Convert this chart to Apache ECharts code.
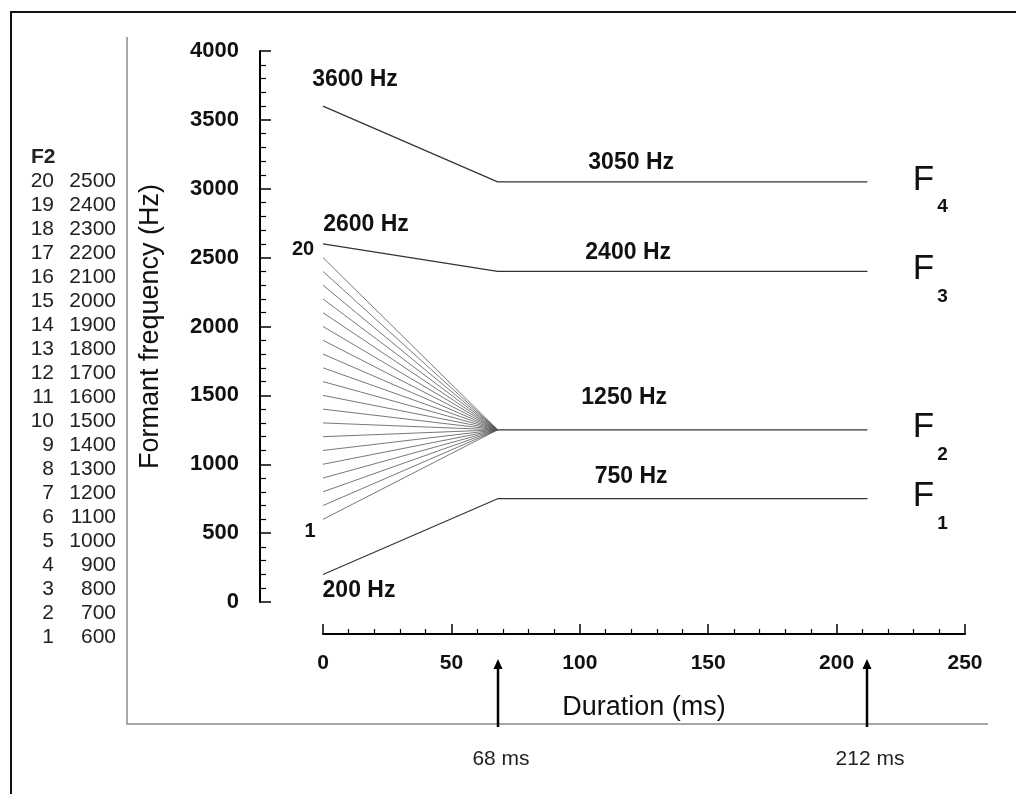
<!DOCTYPE html>
<html>
<head>
<meta charset="utf-8">
<title>Formant transitions</title>
<script src="https://cdn.jsdelivr.net/npm/echarts@6/dist/echarts.min.js"></script>
<style>
  html, body { margin: 0; padding: 0; background: #fff; }
  #chart { width: 1016px; height: 794px; }
</style>
</head>
<body>
<div id="chart"></div>
<script>
// time points of the formant tracks (ms)
const timePoints = [0, 68, 212];
const f1Track = [200, 750, 750];
const f3Track = [2600, 2400, 2400];
const f4Track = [3600, 3050, 3050];
const f2Target = 1250;
// F2 continuum: step number and onset frequency (Hz)
const f2Steps = [20, 19, 18, 17, 16, 15, 14, 13, 12, 11, 10, 9, 8, 7, 6, 5, 4, 3, 2, 1];
const f2Onsets = [2500, 2400, 2300, 2200, 2100, 2000, 1900, 1800, 1700, 1600, 1500, 1400, 1300, 1200, 1100, 1000, 900, 800, 700, 600];
// marked durations under the time axis (ms)
const arrowTimes = [68, 212];

const FONT = '"Liberation Sans", Arial, sans-serif';
const labelMs = 120; // where the steady-state Hz labels sit

let myChart = echarts.init(document.getElementById('chart'));

function note(coord, text, offset, size, weight) {
  return {
    coord: coord,
    symbolSize: 0,
    label: {
      show: true,
      formatter: text,
      offset: offset,
      color: '#111',
      fontFamily: FONT,
      fontSize: size || 23,
      fontWeight: weight || 'bold'
    }
  };
}

// F label with its subscript, hung on the end of a track
function formantTag(value, n) {
  const end = timePoints[timePoints.length - 1];
  return [
    note([end, value], 'F', [56, -2], 35, 'normal'),
    note([end, value], String(n), [75, 25], 19, 'bold')
  ];
}

function track(name, values, notes) {
  return {
    name: name,
    type: 'line',
    data: timePoints.map((t, i) => [t, values[i]]),
    symbol: 'none',
    silent: true,
    lineStyle: { color: '#333', width: 1.2 },
    markPoint: { symbolSize: 0, silent: true, animation: false, data: notes },
    z: 3
  };
}

let series = [];

// F2 fan
f2Onsets.forEach((v, i) => {
  series.push({
    name: 'F2 step ' + f2Steps[i],
    type: 'line',
    data: [[timePoints[0], v], [timePoints[1], f2Target]],
    symbol: 'none',
    silent: true,
    lineStyle: { color: '#555', width: 0.8 },
    z: 2
  });
});

series.push(track('F4', f4Track, [
  note([timePoints[0], f4Track[0]], f4Track[0] + ' Hz', [32, -26]),
  note([labelMs, f4Track[1]], f4Track[1] + ' Hz', [0, -19])
].concat(formantTag(f4Track[2], 4))));

series.push(track('F3', f3Track, [
  note([timePoints[0], f3Track[0]], f3Track[0] + ' Hz', [43, -19]),
  note([labelMs, f3Track[1]], f3Track[1] + ' Hz', [-3, -19])
].concat(formantTag(f3Track[2], 3))));

series.push({
  name: 'F2',
  type: 'line',
  data: [[timePoints[1], f2Target], [timePoints[2], f2Target]],
  symbol: 'none',
  silent: true,
  lineStyle: { color: '#333', width: 1.2 },
  markPoint: {
    symbolSize: 0, silent: true, animation: false,
    data: [
      note([labelMs, f2Target], f2Target + ' Hz', [-7, -32]),
      note([timePoints[0], f2Onsets[0]], String(f2Steps[0]), [-20, -8], 20, 'bold'),
      note([timePoints[0], f2Onsets[f2Onsets.length - 1]], String(f2Steps[f2Steps.length - 1]), [-13, 12], 20, 'bold')
    ].concat(formantTag(f2Target, 2))
  },
  z: 3
});

series.push(track('F1', f1Track, [
  note([timePoints[0], f1Track[0]], f1Track[0] + ' Hz', [36, 16]),
  note([labelMs, f1Track[1]], f1Track[1] + ' Hz', [0, -22])
].concat(formantTag(f1Track[2], 1))));

// arrows pointing at the marked durations
series.push({
  name: 'marks',
  type: 'custom',
  silent: true,
  clip: false,
  z: 5,
  data: arrowTimes.map(t => [t, 0]),
  renderItem: function (params, api) {
    const p = api.coord([api.value(0), 0]);
    const x = Math.round(p[0]);
    const tipY = p[1] + 57;
    return {
      type: 'group',
      children: [
        { type: 'line', shape: { x1: x, y1: tipY + 6, x2: x, y2: p[1] + 125 }, style: { stroke: '#000', lineWidth: 2.5 } },
        { type: 'polygon', shape: { points: [[x, tipY], [x - 4.5, tipY + 10], [x + 4.5, tipY + 10]] }, style: { fill: '#000' } },
        { type: 'text', x: x + 3, y: p[1] + 157, style: { text: api.value(0) + ' ms', align: 'center', verticalAlign: 'middle', fontSize: 21, fontFamily: FONT, fill: '#222' } }
      ]
    };
  }
});

// frames and the left hand table of the F2 steps
let graphics = [
  { type: 'rect', z: 0, silent: true, shape: { x: 11, y: 12, width: 1040, height: 820 }, style: { fill: 'none', stroke: '#111', lineWidth: 2 } },
  { type: 'polyline', z: 0, silent: true, shape: { points: [[127, 37], [127, 724], [988, 724]] }, style: { fill: 'none', stroke: '#8a8a8a', lineWidth: 1.5 } },
  { type: 'text', x: 31, y: 157, style: { text: 'F2', align: 'left', verticalAlign: 'middle', fontSize: 21, fontWeight: 'bold', fontFamily: FONT, fill: '#222' } }
];
f2Steps.forEach((s, i) => {
  const y = 181 + i * 24;
  graphics.push({ type: 'text', x: 54, y: y, style: { text: String(s), align: 'right', verticalAlign: 'middle', fontSize: 21, fontFamily: FONT, fill: '#222' } });
  graphics.push({ type: 'text', x: 116, y: y, style: { text: String(f2Onsets[i]), align: 'right', verticalAlign: 'middle', fontSize: 21, fontFamily: FONT, fill: '#222' } });
});

let option = {
  backgroundColor: '#fff',
  animation: false,
  grid: { left: 323, right: 51, top: 51, bottom: 192, containLabel: false },
  xAxis: {
    type: 'value',
    min: 0,
    max: 250,
    interval: 50,
    offset: 32,
    name: 'Duration (ms)',
    nameLocation: 'middle',
    nameGap: 60,
    nameTextStyle: { fontSize: 27, fontFamily: FONT, color: '#111' },
    axisLine: { show: true, onZero: false, lineStyle: { color: '#000', width: 2 } },
    axisTick: { show: true, inside: true, length: 10, lineStyle: { color: '#000', width: 1.5 } },
    minorTick: { show: true, splitNumber: 5, length: 5, lineStyle: { color: '#000', width: 1.2 } },
    splitLine: { show: false },
    axisLabel: { margin: 19, fontSize: 21, fontWeight: 'bold', fontFamily: FONT, color: '#111', formatter: v => String(v) }
  },
  yAxis: {
    type: 'value',
    min: 0,
    max: 4000,
    interval: 500,
    offset: 63,
    name: 'Formant frequency (Hz)',
    nameLocation: 'middle',
    nameRotate: 90,
    nameGap: 96,
    nameTextStyle: { fontSize: 27, fontFamily: FONT, color: '#111' },
    axisLine: { show: true, onZero: false, lineStyle: { color: '#000', width: 2 } },
    axisTick: { show: true, inside: true, length: 11, lineStyle: { color: '#000', width: 1.5 } },
    minorTick: { show: true, splitNumber: 5, length: 6, lineStyle: { color: '#000', width: 1.2 } },
    splitLine: { show: false },
    axisLabel: { margin: 21, fontSize: 22, fontWeight: 'bold', fontFamily: FONT, color: '#111', formatter: v => String(v) }
  },
  graphic: graphics,
  series: series
};

myChart.setOption(option, true);
window.addEventListener('resize', () => {
  myChart.resize();
});
</script>
</body>
</html>
